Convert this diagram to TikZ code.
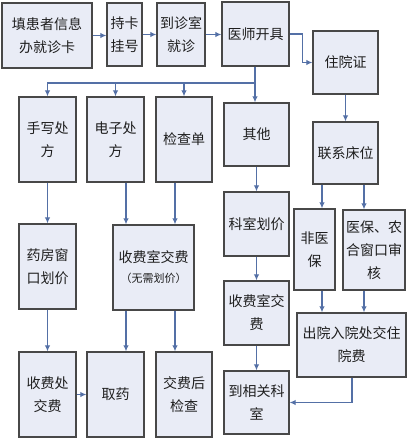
\documentclass[tikz,border=0pt]{standalone}
\usepackage{fontspec}
\setmainfont{Noto Sans CJK SC}
\usetikzlibrary{arrows.meta}
\definecolor{boxfill}{RGB}{233,236,246}
\definecolor{boxline}{RGB}{72,72,72}
\definecolor{arrcol}{RGB}{84,112,166}
\definecolor{txt}{RGB}{30,30,30}
\begin{document}
\begin{tikzpicture}[x=1pt,y=-1pt,
  box/.style={draw=boxline, fill=boxfill, line width=1.3pt, align=center, inner sep=0pt, text=txt, font=\fontsize{14}{23}\selectfont},
  arr/.style={draw=arrcol, line width=1.1pt, -{Latex[length=6pt,width=5.5pt]}}]
\useasboundingbox (0,0) rectangle (408,441);
% row 1
\node[box, minimum width=90pt, minimum height=65pt] (b1) at (47,35.5) {填患者信息\\办就诊卡};
\node[box, minimum width=35pt, minimum height=63pt] (b2) at (124.5,34.5) {持卡\\挂号};
\node[box, minimum width=48pt, minimum height=63pt] (b3) at (181,34.5) {到诊室\\就诊};
\node[box, minimum width=67pt, minimum height=64pt] (b4) at (255.5,34) {医师开具};
\node[box, minimum width=65pt, minimum height=63pt] (b5) at (345.5,62.5) {住院证};
% row 2
\node[box, minimum width=57pt, minimum height=85pt] (shou) at (47.5,139.5) {手写处\\方};
\node[box, minimum width=57pt, minimum height=85pt] (dianzi) at (115.5,139.5) {电子处\\方};
\node[box, minimum width=56pt, minimum height=85pt] (jiancha) at (184,139.5) {检查单};
\node[box, minimum width=65pt, minimum height=63pt] (qita) at (256.5,134.5) {其他};
\node[box, minimum width=65pt, minimum height=62pt] (lianxi) at (345.5,153) {联系床位};
% row 3
\node[box, minimum width=57pt, minimum height=85pt] (yaofang) at (47.5,266.5) {药房窗\\口划价};
\node[box, minimum width=81pt, minimum height=85pt] (sfs) at (153.5,267.5) {收费室交费\\[-3pt]{\fontsize{11}{13}\selectfont （无需划价）}};
\node[box, minimum width=65pt, minimum height=64pt] (keshi) at (256.5,224) {科室划价};
\node[box, minimum width=41pt, minimum height=81pt] (fyb) at (314.5,249.5) {非医\\保};
\node[box, minimum width=62pt, minimum height=80pt] (yb) at (374,250) {医保、农\\合窗口审\\核};
\node[box, minimum width=65pt, minimum height=64pt] (sfs2) at (256.5,313) {收费室交\\费};
\node[box, minimum width=109pt, minimum height=64pt] (cy) at (351.5,345) {出院入院处交住\\院费};
% row 4
\node[box, minimum width=57pt, minimum height=85pt] (sfc) at (47.5,394.5) {收费处\\交费};
\node[box, minimum width=57pt, minimum height=85pt] (qy) at (115.5,394.5) {取药};
\node[box, minimum width=56pt, minimum height=85pt] (jfh) at (184,394.5) {交费后\\检查};
\node[box, minimum width=65pt, minimum height=63pt] (dx) at (256.5,402.5) {到相关科\\室};
% helper coordinates
\coordinate (br) at (255,83);
\coordinate (xa) at (126,0);
\coordinate (xb) at (175,0);
\coordinate (xc) at (322,0);
\coordinate (xd) at (364,0);
\coordinate (xe) at (352,0);
% connectors row 1
\draw[arr] (b1.east) -- (b1.east -| b2.west);
\draw[arr] (b2.east) -- (b2.east -| b3.west);
\draw[arr] (b3.east) -- (b3.east -| b4.west);
\draw[arr] (b4.east) -- ++(13,0) |- (b5.west);
% branch from 医师开具
\draw[arr] (b4.south -| br) -- (br |- qita.north);
\draw[arr] (br) -| (shou.north);
\draw[arr] (dianzi.north |- br) -- (dianzi.north);
\draw[arr] (jiancha.north |- br) -- (jiancha.north);
% column connectors
\draw[arr] (b5.south) -- (lianxi.north);
\draw[arr] (shou.south) -- (yaofang.north);
\draw[arr] (yaofang.south) -- (sfc.north);
\draw[arr] (sfc.east) -- (sfc.east -| qy.west);
\draw[arr] (xa |- dianzi.south) -- (xa |- sfs.north);
\draw[arr] (xb |- jiancha.south) -- (xb |- sfs.north);
\draw[arr] (xa |- sfs.south) -- (xa |- qy.north);
\draw[arr] (xb |- sfs.south) -- (xb |- jfh.north);
\draw[arr] (qita.south) -- (keshi.north);
\draw[arr] (keshi.south) -- (sfs2.north);
\draw[arr] (sfs2.south) -- (dx.north);
\draw[arr] (xc |- lianxi.south) -- (xc |- fyb.north);
\draw[arr] (xd |- lianxi.south) -- (xd |- yb.north);
\draw[arr] (xc |- fyb.south) -- (xc |- cy.north);
\draw[arr] (xd |- yb.south) -- (xd |- cy.north);
\draw[arr] (xe |- cy.south) |- (dx.east);
\end{tikzpicture}
\end{document}
